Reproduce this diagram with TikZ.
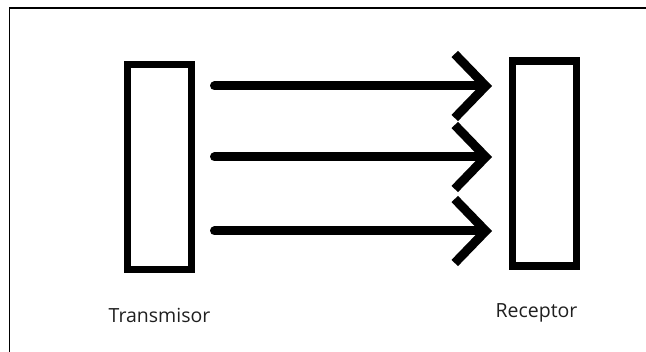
\documentclass[tikz,border=0pt]{standalone}
\usepackage{fontspec}
\setmainfont{Open Sans}
\usetikzlibrary{arrows.meta}
\begin{document}
\begin{tikzpicture}[x=1pt,y=-1pt,
  block/.style={draw, line width=7.5pt, minimum width=64pt, minimum height=205pt,
    inner sep=0pt, outer sep=0pt},
  ray/.style={line width=9pt, line cap=round,
    -{Straight Barb[length=31pt, width=64pt, sharp]}},
  caption/.style={font=\fontsize{19.5}{21}\selectfont, text=black!88,
    anchor=base, inner sep=0pt}]
\useasboundingbox (0,0) rectangle (646,352);
% frame: top and left edges only
\draw[line width=1.5pt] (9.5,352) -- (9.5,8) -- (646,8);
% transmitter and receiver
\node[block] (tx) at (159.5,167) {};
\node[block] (rx) at (544.5,163.5) {};
% ends of the three rays
\coordinate (s1) at (214.5,86);  \coordinate (e1) at (492,86);
\coordinate (s2) at (214.5,157); \coordinate (e2) at (492,157);
\coordinate (s3) at (214.5,231); \coordinate (e3) at (492,231);
\draw[ray] (s1) -- (e1);
\draw[ray] (s2) -- (e2);
\draw[ray] (s3) -- (e3);
% captions
\node[caption] (txl) at (159.5,323) {Transmisor};
\node[caption] (rxl) at (536.5,318) {Receptor};
\end{tikzpicture}
\end{document}
